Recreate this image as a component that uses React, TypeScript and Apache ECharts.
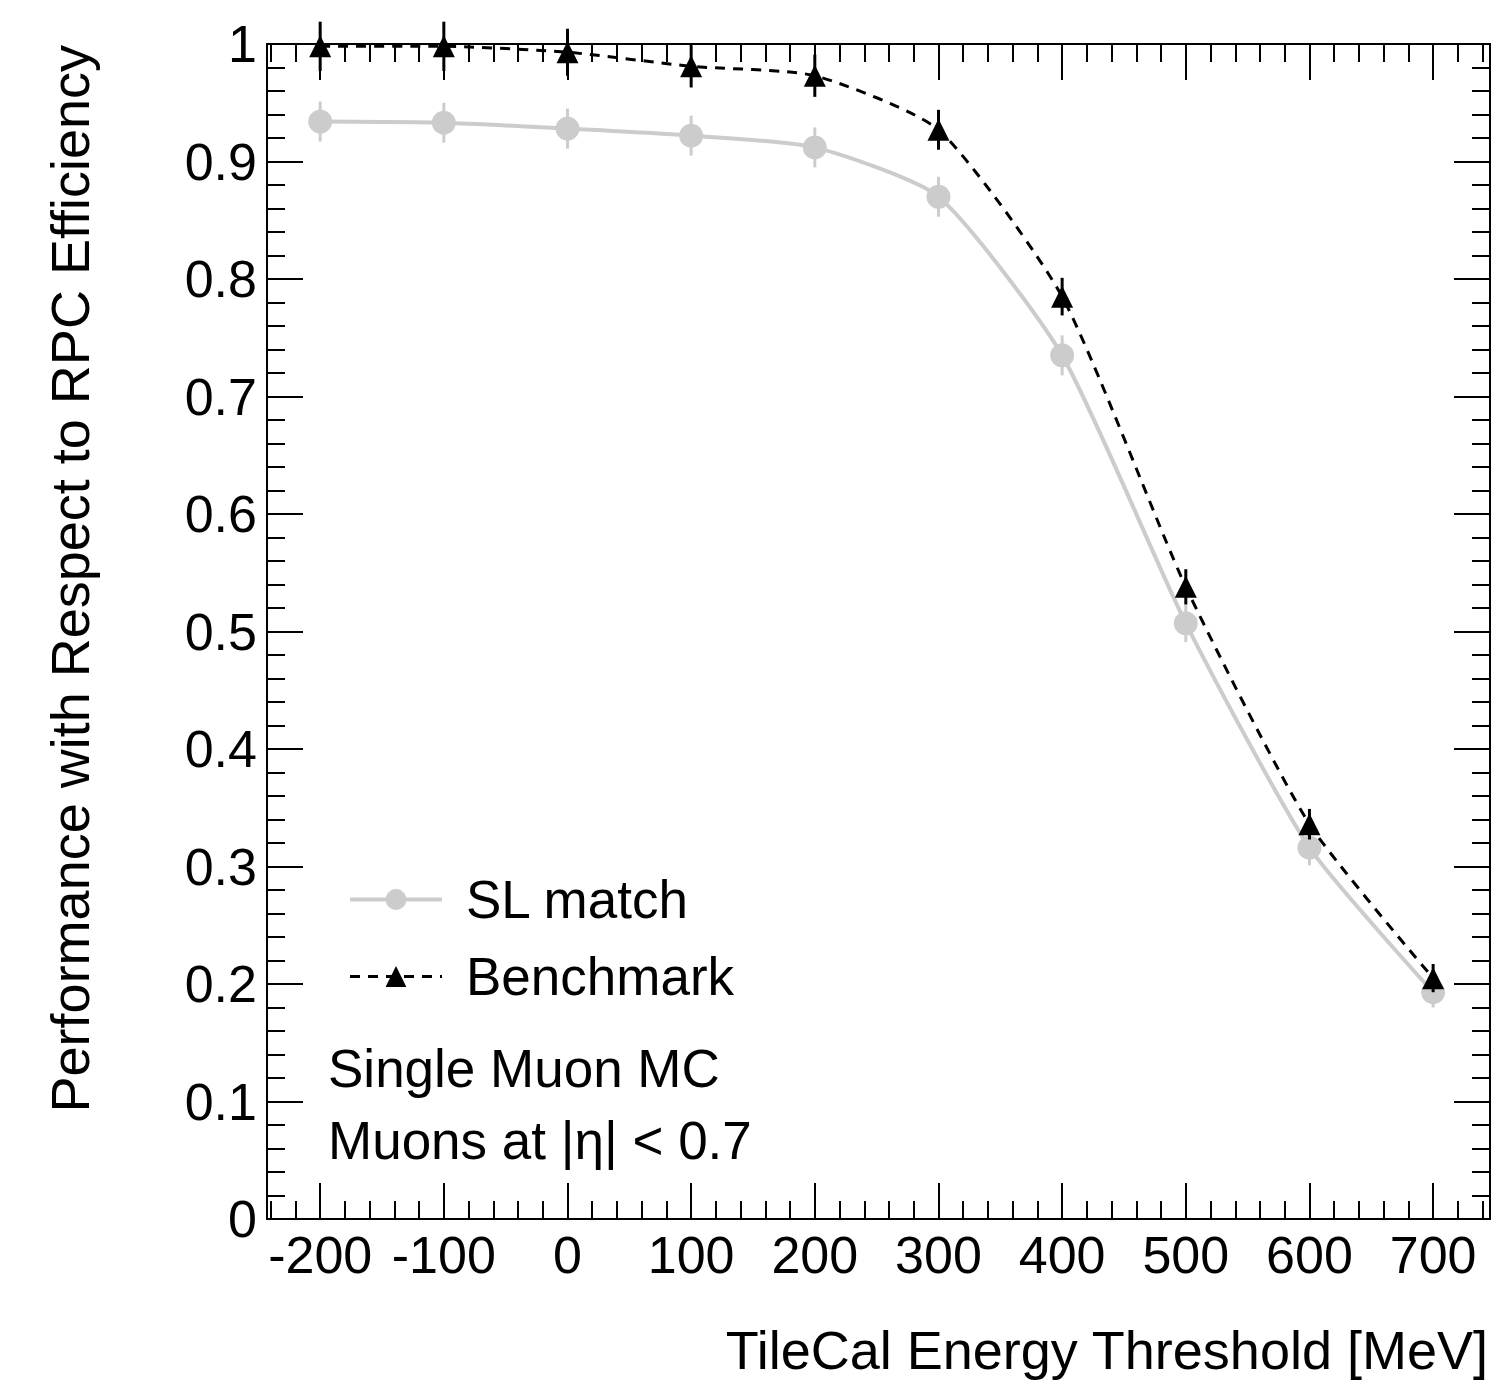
import React, { useEffect, useRef } from "react";
import * as echarts from "echarts";

const xValues = [-200, -100, 0, 100, 200, 300, 400, 500, 600, 700];
const slMatch = [0.934, 0.933, 0.928, 0.922, 0.912, 0.870, 0.735, 0.507, 0.316, 0.193];
const slErr = [0.017, 0.017, 0.017, 0.017, 0.017, 0.017, 0.017, 0.016, 0.015, 0.013];
const benchmark = [0.998, 0.998, 0.993, 0.981, 0.973, 0.927, 0.785, 0.538, 0.336, 0.205];
const bmErr = [0.021, 0.021, 0.02, 0.018, 0.018, 0.017, 0.016, 0.015, 0.013, 0.012];

const xMin = -243;
const xMax = 746;
const yTicks = [0, 0.1, 0.2, 0.3, 0.4, 0.5, 0.6, 0.7, 0.8, 0.9, 1];

const FONT = "Liberation Sans, Arial, Helvetica, sans-serif";
const GRAY = "#cccccc";
const BLACK = "#000000";

function errorSeries(name: string, vals: number[], errs: number[], color: string, z: number) {
  return {
    type: "custom",
    name: name + " err",
    xAxisIndex: 0,
    yAxisIndex: 0,
    z,
    silent: true,
    data: xValues.map((x, i) => [x, vals[i] - errs[i], vals[i] + errs[i]]),
    renderItem: (params: any, api: any) => {
      const x = api.value(0);
      const p1 = api.coord([x, api.value(1)]);
      const p2 = api.coord([x, api.value(2)]);
      return {
        type: "line",
        shape: { x1: p1[0], y1: p1[1], x2: p2[0], y2: p2[1] },
        style: { stroke: color, lineWidth: 3 },
      };
    },
  };
}

export default function App() {
  const ref = useRef<HTMLDivElement>(null);
  useEffect(() => {
    if (!ref.current) return;
    const chart = echarts.init(ref.current, undefined, { renderer: "svg" });
    const axisLine = { show: true, onZero: false, lineStyle: { color: BLACK, width: 2 } };
    const majorX = (pos: string, labels: boolean) => ({
      type: "value",
      position: pos,
      min: xMin,
      max: xMax,
      splitNumber: 10,
      minInterval: 100,
      maxInterval: 100,
      axisLine,
      axisTick: { show: true, inside: true, length: 36, lineStyle: { color: BLACK, width: 2 } },
      axisLabel: {
        show: labels,
        showMinLabel: false,
        showMaxLabel: false,
        fontSize: 52,
        fontFamily: FONT,
        color: BLACK,
        margin: 10,
      },
      splitLine: { show: false },
    });
    const minorX = (pos: string) => ({
      type: "value",
      position: pos,
      min: xMin,
      max: xMax,
      splitNumber: 50,
      minInterval: 20,
      maxInterval: 20,
      axisLine,
      axisTick: { show: true, inside: true, length: 18, lineStyle: { color: BLACK, width: 2 } },
      axisLabel: { show: false },
      splitLine: { show: false },
    });
    const yAx = (pos: string, labels: boolean) => ({
      type: "value",
      position: pos,
      min: yTicks[0],
      max: yTicks[yTicks.length - 1],
      interval: 0.1,
      axisLine,
      axisTick: { show: true, inside: true, length: 36, lineStyle: { color: BLACK, width: 2 } },
      minorTick: { show: true, splitNumber: 5, length: 18, lineStyle: { color: BLACK, width: 2 } },
      axisLabel: {
        show: labels,
        fontSize: 52,
        fontFamily: FONT,
        color: BLACK,
        margin: 10,
      },
      splitLine: { show: false },
      minorSplitLine: { show: false },
    });

    chart.setOption({
      animation: false,
      backgroundColor: "#ffffff",
      grid: { left: 267, right: 1, top: 44, bottom: 162, containLabel: false },
      xAxis: [majorX("bottom", true), minorX("bottom"), majorX("top", false), minorX("top")],
      yAxis: [yAx("left", true), yAx("right", false)],
      legend: {
        orient: "vertical",
        left: 348,
        top: 873,
        padding: 0,
        itemWidth: 92,
        itemHeight: 26,
        itemGap: 24,
        data: [
          { name: "SL match", lineStyle: { width: 4, color: GRAY } },
          { name: "Benchmark", lineStyle: { width: 3, color: BLACK, type: [10, 8] } },
        ],
        textStyle: { fontSize: 53, fontFamily: FONT, color: BLACK, padding: [0, 0, 0, 19], lineHeight: 52 },
      },
      graphic: [
        {
          type: "text",
          x: 328,
          y: 1068,
          style: { text: "Single Muon MC", fontSize: 53, fontFamily: FONT, fill: BLACK, textVerticalAlign: "middle" },
        },
        {
          type: "text",
          x: 328,
          y: 1140,
          style: { text: "Muons at |η| < 0.7", fontSize: 53, fontFamily: FONT, fill: BLACK, textVerticalAlign: "middle" },
        },
        {
          type: "text",
          x: 1488,
          y: 1350,
          style: {
            text: "TileCal Energy Threshold [MeV]",
            fontSize: 54,
            fontFamily: FONT,
            fill: BLACK,
            textAlign: "right",
            textVerticalAlign: "middle",
          },
        },
        {
          type: "text",
          x: 70,
          y: 45,
          rotation: Math.PI / 2,
          style: {
            text: "Performance with Respect to RPC Efficiency",
            fontSize: 54,
            fontFamily: FONT,
            fill: BLACK,
            textAlign: "right",
            textVerticalAlign: "middle",
          },
        },
      ],
      series: [
        errorSeries("SL match", slMatch, slErr, GRAY, 2),
        {
          type: "line",
          name: "SL match",
          xAxisIndex: 0,
          yAxisIndex: 0,
          z: 3,
          smooth: 0.2,
          data: xValues.map((x, i) => [x, slMatch[i]]),
          symbol: "circle",
          symbolSize: 24,
          showSymbol: true,
          itemStyle: { color: GRAY },
          lineStyle: { color: GRAY, width: 4 },
        },
        errorSeries("Benchmark", benchmark, bmErr, BLACK, 4),
        {
          type: "line",
          name: "Benchmark",
          xAxisIndex: 0,
          yAxisIndex: 0,
          z: 5,
          smooth: 0.2,
          data: xValues.map((x, i) => [x, benchmark[i]]),
          symbol: "triangle",
          symbolSize: 22,
          showSymbol: true,
          itemStyle: { color: BLACK },
          lineStyle: { color: BLACK, width: 3, type: [10, 8] },
        },
      ],
    });
    return () => chart.dispose();
  }, []);
  return (
    <div
      ref={ref}
      style={{ position: "absolute", left: 0, top: 0, width: 1491, height: 1381, background: "#fff" }}
    />
  );
}
